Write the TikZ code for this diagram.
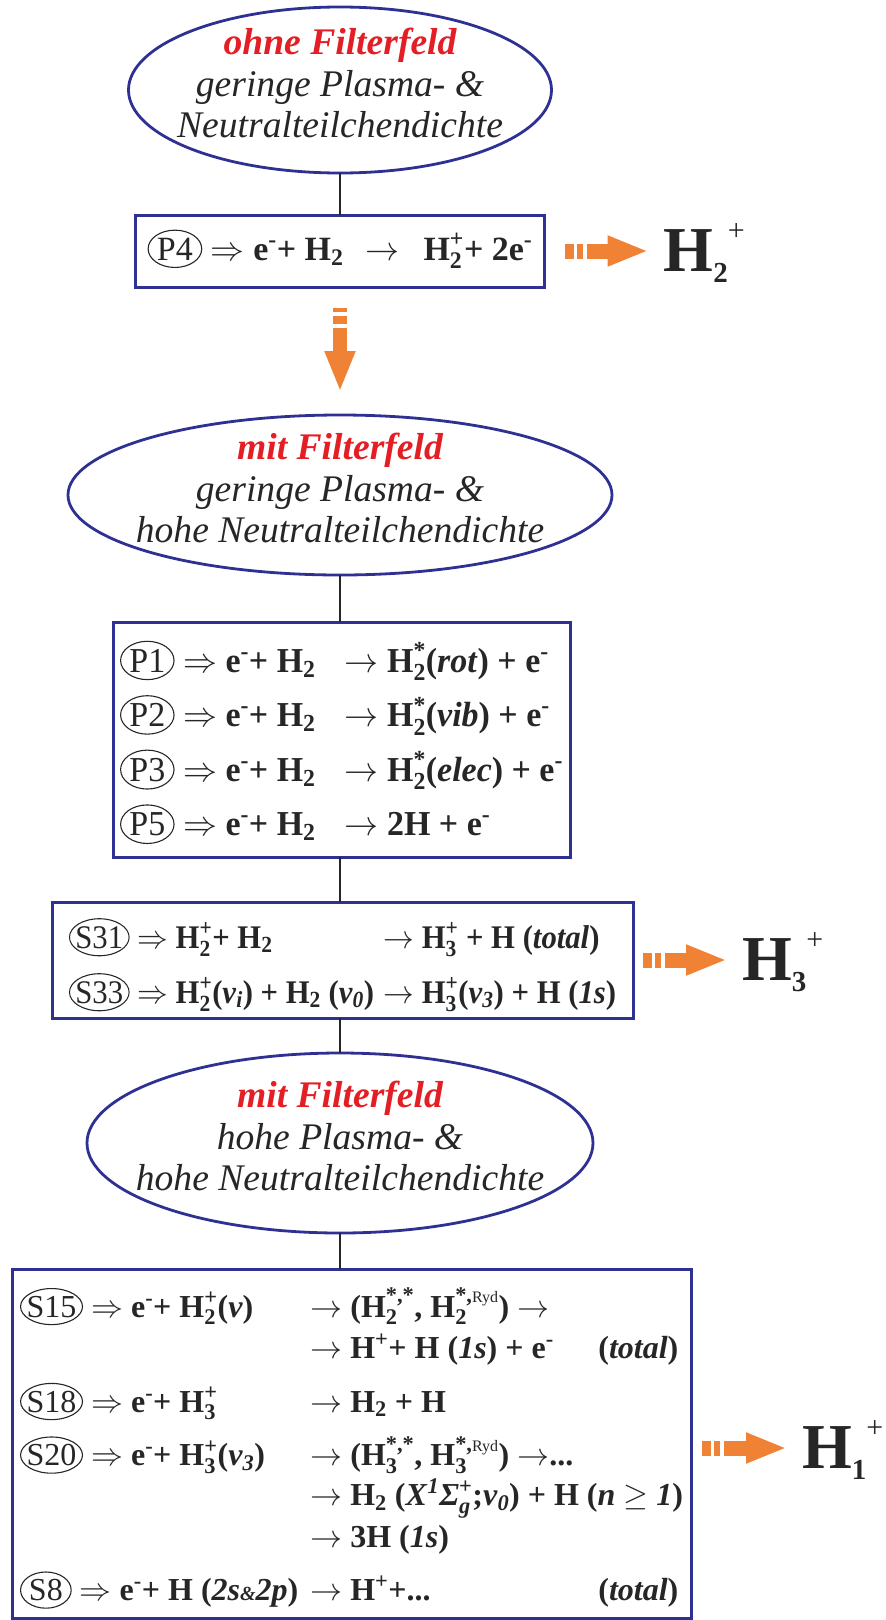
\documentclass[tikz,border=0pt]{standalone}
\usepackage{fix-cm}
\usepackage{amsmath}
\usepackage{graphicx}
\usepackage{fontspec}
\setmainfont{Liberation Serif}
\usepackage{tikz}
\usetikzlibrary{arrows.meta,positioning,shapes.geometric}
\definecolor{framenavy}{HTML}{2E3192}
\definecolor{filterred}{HTML}{E31E24}
\definecolor{inkgray}{HTML}{262626}
\definecolor{hotorange}{HTML}{F08236}

\newcommand{\Hs}[1]{$\textbf{H}_{\textbf{#1}}$}
\newcommand{\Hsp}[2]{$\textbf{H}_{\textbf{#1}}^{\textbf{#2}}$}
\newcommand{\el}{\textbf{e}\textsuperscript{-}}
\newcommand{\ryd}{{\mdseries\fontsize{16}{16}\selectfont Ryd}}
\newcommand{\lbl}[2][]{\smash{\tikz[baseline=(tag.base)]\node[tagoval,#1](tag){#2};}}
\newcommand{\ion}[1]{H\smash{\raisebox{-11pt}{\fontsize{29}{29}\selectfont #1}\raisebox{31pt}{\fontsize{30}{30}\selectfont\mdseries +}}}
\newcommand{\totline}[2]{\makebox[368pt][l]{#1\hfill#2}}

\begin{document}
\begin{tikzpicture}[x=1pt, y=1pt,
  regime/.style={ellipse, draw=framenavy, line width=2.8pt, inner xsep=-120pt, inner ysep=-70pt,
    outer sep=0pt, align=center, text=inkgray, text depth=14pt,
    font=\fontsize{37.6}{41.5}\selectfont\itshape},
  procbox/.style={draw=framenavy, line width=3pt, inner sep=0pt, outer sep=0pt, text=inkgray},
  tagoval/.style={ellipse, draw, line width=1.1pt, inner xsep=1pt, inner ysep=2pt, outer sep=0pt,
    minimum width=0pt, minimum height=0pt, anchor=center, xshift=0pt, yshift=0pt,
    text height={}, text depth={}, font=\mdseries},
  slim/.style={inner xsep=-3pt},
  product/.style={inner sep=0pt, outer sep=0pt, text=inkgray, font=\fontsize{64}{64}\selectfont\bfseries},
  link/.style={line width=2pt, draw=inkgray},
  yield/.style={draw=hotorange, line width=15pt,
    dash pattern=on 9pt off 3pt on 6pt off 4pt on 400pt,
    -{Triangle[length=41pt, width=28pt]}}
]
\useasboundingbox (0,0) rectangle (886,-1620);

% regimes and reaction boxes
\node[regime, minimum width=423pt, minimum height=166pt] (ell1) at (340,-90)
  {{\color{filterred}\bfseries ohne Filterfeld}\\geringe Plasma- \&\\Neutralteilchendichte};

\node[procbox, minimum width=409pt, minimum height=72pt, text height=18pt, text depth=0pt,
  below=42pt of ell1] (p4)
  {\fontsize{34}{40}\selectfont\bfseries\lbl{P4} $\Rightarrow$ \el+ \Hs{2}\hspace{22pt}$\rightarrow$\hspace{24pt}\Hsp{2}{+}+ 2\el};

\node[regime, minimum width=544pt, minimum height=160pt, below=128pt of p4] (ell2)
  {{\color{filterred}\bfseries mit Filterfeld}\\geringe Plasma- \&\\hohe Neutralteilchendichte};

\node[procbox, minimum width=457pt, minimum height=235pt, text height=0pt, text depth=135pt,
  below=47pt of ell2, xshift=1.5pt] (pbox)
  {\fontsize{35}{54.5}\selectfont\bfseries\scalebox{0.97}[1]{%
   \begin{tabular}[t]{@{}l@{\hspace{30pt}}l@{}}
   \lbl{P1} $\Rightarrow$ \el+ \Hs{2} & $\rightarrow$ \Hsp{2}{*}(\textit{rot}) + \el\\
   \lbl{P2} $\Rightarrow$ \el+ \Hs{2} & $\rightarrow$ \Hsp{2}{*}(\textit{vib}) + \el\\
   \lbl{P3} $\Rightarrow$ \el+ \Hs{2} & $\rightarrow$ \Hsp{2}{*}(\textit{elec}) + \el\\
   \lbl{P5} $\Rightarrow$ \el+ \Hs{2} & $\rightarrow$ 2H + \el
   \end{tabular}}};

\node[procbox, minimum width=581pt, minimum height=116pt, text height=0pt, text depth=24pt,
  below=45pt of pbox, xshift=1pt] (sbox)
  {\fontsize{33}{55}\selectfont\bfseries\scalebox{0.93}[1]{%
   \begin{tabular}[t]{@{}l@{\hspace{10pt}}l@{}}
   \lbl[slim]{S31} $\Rightarrow$ \Hsp{2}{+}+ \Hs{2} & $\rightarrow$ \Hsp{3}{+} + H (\textit{total})\\
   \lbl[slim]{S33} $\Rightarrow$ \Hsp{2}{+}(\textit{v}$_{\textit{i}}$) + \Hs{2} (\textit{v}$_{\textit{0}}$) & $\rightarrow$ \Hsp{3}{+}(\textit{v}$_{\textit{3}}$) + H (\textit{1s})
   \end{tabular}}};

\node[regime, minimum width=506pt, minimum height=180pt, below=35pt of sbox, xshift=-2.5pt] (ell3)
  {{\color{filterred}\bfseries mit Filterfeld}\\hohe Plasma- \&\\hohe Neutralteilchendichte};

\node[procbox, minimum width=679pt, minimum height=349pt, text height=0pt, text depth=253pt,
  below=36pt of ell3, xshift=11.5pt] (rbox)
  {\fontsize{32}{41}\selectfont\bfseries
   \begin{tabular}[t]{@{}l@{\hspace{12pt}}l@{}}
   \lbl[slim]{S15} $\Rightarrow$ \el+ \Hsp{2}{+}(\textit{v}) & $\rightarrow$ (\Hsp{2}{*,*}, \Hsp{2}{*,\ryd}) $\rightarrow$\\
    & \totline{$\rightarrow$ H\textsuperscript{+}+ H (\textit{1s}) + \el}{(\textit{total})}\\[13pt]
   \lbl[slim]{S18} $\Rightarrow$ \el+ \Hsp{3}{+} & $\rightarrow$ \Hs{2} + H\\[12pt]
   \lbl[slim]{S20} $\Rightarrow$ \el+ \Hsp{3}{+}(\textit{v}$_{\textit{3}}$) & $\rightarrow$ (\Hsp{3}{*,*}, \Hsp{3}{*,\ryd}) $\rightarrow$...\\[-1pt]
    & $\rightarrow$ \Hs{2} (\textit{X}$^{\textit{1}}$\textit{Σ}$_{\textit{g}}^{\textbf{+}}$;\textit{v}$_{\textit{0}}$) + H (\textit{n} $\geq$ \textit{1})\\[1pt]
    & $\rightarrow$ 3H (\textit{1s})\\[12pt]
   \lbl{S8} $\Rightarrow$ \el+ H (\textit{2s{\fontsize{20}{20}\selectfont\&}2p}) & \totline{$\rightarrow$ H\textsuperscript{+}+...}{(\textit{total})}
   \end{tabular}};

% products
\node[product, right=119pt of p4] (h2) {\ion{2}};
\node[product, right=109pt of sbox] (h3) {\ion{3}};
\node[product, right=111pt of rbox, yshift=-4.5pt] (h1) {\ion{1}};

% connectors
\draw[link] (ell1.south) -- (ell1.south |- p4.north);
\draw[link] (ell2.south) -- (ell2.south |- pbox.north);
\draw[link] (ell2.south |- pbox.south) -- (ell2.south |- sbox.north);
\draw[link] (ell3.north |- sbox.south) -- (ell3.north);
\draw[link] (ell3.south) -- (ell3.south |- rbox.north);

\draw[yield, shorten <=20pt, shorten >=15pt] (p4.east |- h2.west) -- (h2.west);
\draw[yield, shorten <=10pt, shorten >=15pt] (sbox.east |- h3.west) -- (h3.west);
\draw[yield, shorten <=11pt, shorten >=15pt] (rbox.east |- h1.west) -- (h1.west);
\draw[yield, line width=13.5pt, dash pattern=on 4pt off 3.5pt on 8.5pt off 3.5pt on 400pt,
  shorten <=21pt, shorten >=23pt] (ell2.north |- p4.south) -- (ell2.north);
\end{tikzpicture}
\end{document}
